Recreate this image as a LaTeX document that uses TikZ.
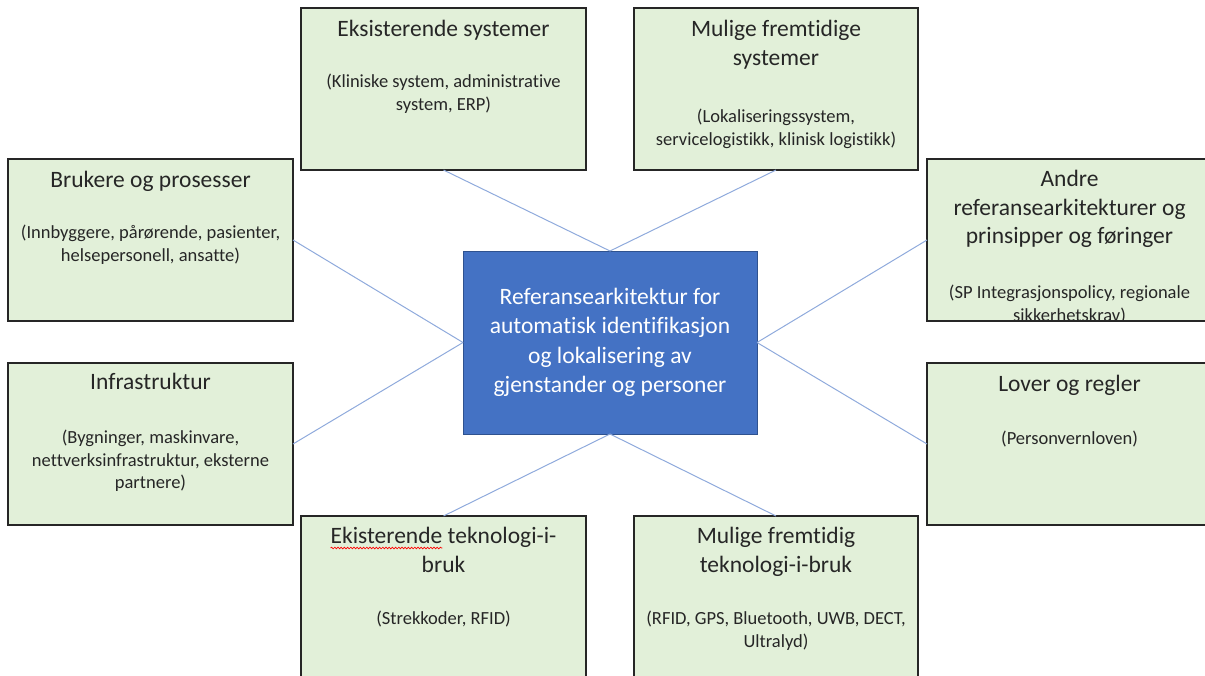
\documentclass[tikz,border=0pt]{standalone}
\usepackage{fontspec}
\setmainfont{Carlito}[Ligatures=NoCommon]
\usetikzlibrary{positioning}
\usetikzlibrary{decorations.pathmorphing}
\definecolor{GREEN_L}{HTML}{E2F0D9}
\definecolor{BLUE}{HTML}{4472C4}
\definecolor{BLUE_E}{HTML}{2F528F}
\definecolor{BLUE_L}{HTML}{8FAADC}
\definecolor{TEKST}{HTML}{262626}
\newlength{\ekbredde}
\newcommand{\tittelfont}{\fontsize{23.5}{28.5}\selectfont}
\newcommand{\detaljfont}{\fontsize{18.5}{22.5}\selectfont}
\tikzset{
	boks/.style = {draw=black!85, line width=1.5pt, fill=GREEN_L, anchor=north west,
		minimum width=285pt, minimum height=162pt, inner sep=0pt, outer sep=0pt},
	tittel/.style = {text=TEKST, font=\tittelfont, align=center, anchor=north,
		inner sep=0pt, outer sep=0pt},
	detalj/.style = {text=TEKST, font=\detaljfont, align=center, anchor=north,
		inner sep=0pt, outer sep=0pt},
	midt/.style = {draw=BLUE_E, line width=1pt, fill=BLUE, text=white,
		font=\fontsize{23.5}{29.3}\selectfont, align=center,
		minimum width=294pt, minimum height=183pt, inner sep=0pt, outer sep=0pt},
	linje/.style = {BLUE_L, line width=1pt},
	stavefeil/.style = {red, line width=0.7pt, decorate,
		decoration={snake, amplitude=0.8pt, segment length=3.2pt}}
}

\begin{document}
\settowidth{\ekbredde}{\tittelfont Ekisterende}%
\begin{tikzpicture}[x=1pt, y=-1pt]
		\useasboundingbox (0,0) rectangle (1205,675);
		\clip (0,0) rectangle (1205,675);
		% centre
		\node[midt] (ref) at (610,342.5) {Referansearkitektur for\\automatisk identifikasjon\\og lokalisering av\\gjenstander og personer};
		% boxes
		\node[boks] (sys) at (301,8) {};
		\node[boks, minimum width=284pt] (fsys) at (634,8) {};
		\node[boks] (bruk) at (8,159) {};
		\node[boks] (andre) at (927,159) {};
		\node[boks] (infra) at (8,363) {};
		\node[boks] (lover) at (927,363) {};
		\node[boks] (tek) at (301,516) {};
		\node[boks, minimum width=284pt] (ftek) at (634,516) {};
		% connectors
		\draw[linje] (sys.south) -- (ref.north);
		\draw[linje] (fsys.south) -- (ref.north);
		\draw[linje] (bruk.east) -- (ref.west);
		\draw[linje] (infra.east) -- (ref.west);
		\draw[linje] (andre.west) -- (ref.east);
		\draw[linje] (lover.west) -- (ref.east);
		\draw[linje] (tek.north) -- (ref.south);
		\draw[linje] (ftek.north) -- (ref.south);
		% top
		\node[tittel, below=9pt of sys.north] (sysT) {\strut Eksisterende systemer};
		\node[detalj, below=64pt of sys.north] (sysD) {\strut(Kliniske system, administrative\\system, ERP)};
		\node[tittel, below=9pt of fsys.north] (fsysT) {\strut Mulige fremtidige\\systemer};
		\node[detalj, below=99pt of fsys.north] (fsysD) {\strut(Lokaliseringssystem,\\servicelogistikk, klinisk logistikk)};
		% left
		\node[tittel, below=9pt of bruk.north] (brukT) {\strut Brukere og prosesser};
		\node[detalj, below=64pt of bruk.north] (brukD) {\strut(Innbyggere, pårørende, pasienter,\\helsepersonell, ansatte)};
		\node[tittel, below=7pt of infra.north] (infraT) {\strut Infrastruktur};
		\node[detalj, below=65pt of infra.north] (infraD) {\strut(Bygninger, maskinvare,\\nettverksinfrastruktur, eksterne\\partnere)};
		% right
		\node[tittel, below=8pt of andre.north] (andreT) {\strut Andre\\referansearkitekturer og\\prinsipper og føringer};
		\begin{scope}
		\clip (andre.north west) rectangle (andre.south east);
		\node[detalj, below=124pt of andre.north] (andreD) {\strut(SP Integrasjonspolicy, regionale\\sikkerhetskrav)};
		\end{scope}
		\node[tittel, below=9pt of lover.north] (loverT) {\strut Lover og regler};
		\node[detalj, below=66pt of lover.north] (loverD) {\strut(Personvernloven)};
		% bottom
		\node[tittel, below=8pt of tek.north] (tekT) {\strut Ekisterende teknologi-i-\\bruk};
		\node[detalj, below=93pt of tek.north] (tekD) {\strut(Strekkoder, RFID)};
		\node[tittel, below=8pt of ftek.north] (ftekT) {\strut Mulige fremtidig\\teknologi-i-bruk};
		\node[detalj, below=93pt of ftek.north] (ftekD) {\strut(RFID, GPS, Bluetooth, UWB, DECT,\\Ultralyd)};
		% spelling mark
		\coordinate (ekA) at ([yshift=-24pt]tekT.north west);
		\coordinate (ekB) at ([yshift=-24pt, xshift=\ekbredde]tekT.north west);
		\draw[stavefeil] (ekA) -- (ekB);
	\end{tikzpicture}
\end{document}
